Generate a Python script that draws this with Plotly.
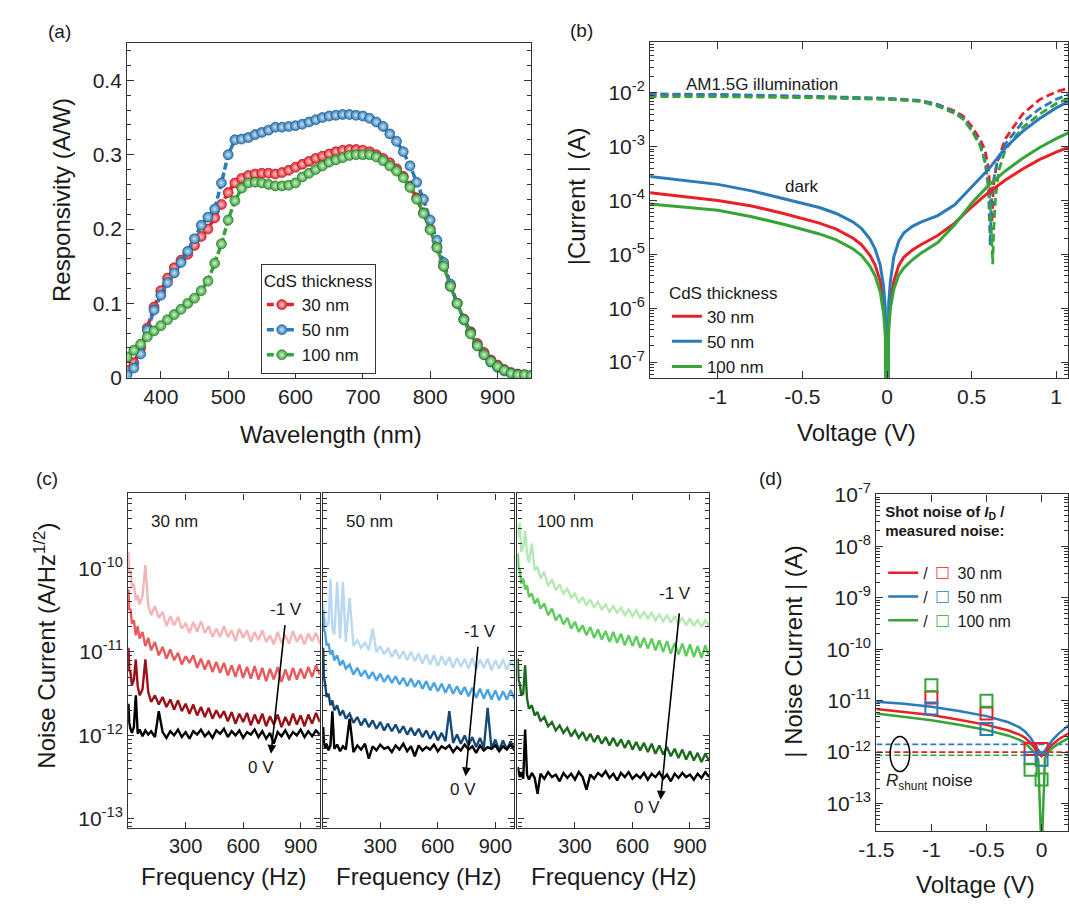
import plotly.graph_objects as go

W, H = 1069, 910
FONT = "Liberation Sans, Arial, sans-serif"
RED, BLUE, GREEN = "#e8202a", "#2b7bba", "#37a437"
thickness = ["30 nm", "50 nm", "100 nm"]

# ---------------- (a) responsivity ----------------
wavelength = [350, 360, 370, 380, 390, 400, 410, 420, 430, 440, 450, 460, 470, 480, 490,
              500, 510, 520, 530, 540, 550, 560, 570, 580, 590, 600, 610, 620, 630, 640,
              650, 660, 670, 680, 690, 700, 710, 720, 730, 740, 750, 760, 770, 780, 790,
              800, 810, 820, 830, 840, 850, 860, 870, 880, 890, 900, 910, 920, 930, 940, 950]
resp_30 = [0.010, 0.020, 0.040, 0.067, 0.095, 0.117, 0.134, 0.148, 0.158, 0.166, 0.178, 0.190,
           0.200, 0.215, 0.233, 0.249, 0.262, 0.268, 0.272, 0.274, 0.275, 0.275, 0.274, 0.276,
           0.279, 0.283, 0.287, 0.291, 0.295, 0.298, 0.301, 0.304, 0.306, 0.307, 0.307, 0.306,
           0.304, 0.300, 0.295, 0.289, 0.281, 0.271, 0.258, 0.242, 0.222, 0.200, 0.176, 0.150,
           0.123, 0.100, 0.079, 0.062, 0.046, 0.034, 0.024, 0.017, 0.011, 0.007, 0.005, 0.004, 0.003]
resp_50 = [0.004, 0.013, 0.032, 0.064, 0.091, 0.111, 0.128, 0.141, 0.155, 0.170, 0.187, 0.205,
           0.216, 0.227, 0.262, 0.300, 0.320, 0.321, 0.323, 0.327, 0.330, 0.333, 0.337, 0.337,
           0.338, 0.339, 0.341, 0.344, 0.347, 0.350, 0.352, 0.353, 0.354, 0.354, 0.353, 0.352,
           0.349, 0.344, 0.338, 0.328, 0.318, 0.304, 0.285, 0.263, 0.240, 0.212, 0.185, 0.155,
           0.126, 0.100, 0.078, 0.060, 0.043, 0.031, 0.021, 0.014, 0.009, 0.006, 0.004, 0.003, 0.003]
resp_100 = [0.028, 0.037, 0.045, 0.055, 0.063, 0.070, 0.078, 0.085, 0.092, 0.100, 0.107, 0.117,
            0.130, 0.154, 0.180, 0.212, 0.238, 0.255, 0.262, 0.263, 0.262, 0.260, 0.258, 0.258,
            0.259, 0.262, 0.270, 0.275, 0.280, 0.285, 0.290, 0.293, 0.296, 0.299, 0.300, 0.300,
            0.300, 0.297, 0.292, 0.285, 0.278, 0.269, 0.256, 0.240, 0.221, 0.199, 0.175, 0.150,
            0.123, 0.100, 0.078, 0.059, 0.043, 0.031, 0.022, 0.015, 0.010, 0.006, 0.004, 0.004, 0.003]

# ---------------- (b) I-V, log10 |I| ----------------
v_dark = [-1.41, -1.2, -1.0, -0.8, -0.6, -0.4, -0.3, -0.2, -0.15, -0.1, -0.07, -0.04, -0.02, -0.01,
          0.0, 0.01, 0.02, 0.04, 0.07, 0.1, 0.15, 0.2, 0.3, 0.4, 0.5, 0.6, 0.7, 0.8, 0.9, 1.0, 1.1]
dark_30 = [-3.85, -3.92, -4.00, -4.10, -4.25, -4.42, -4.53, -4.70, -4.82, -5.02, -5.20, -5.50, -5.90,
           -6.30, -9.0, -6.30, -5.90, -5.50, -5.20, -5.05, -4.92, -4.82, -4.65, -4.42, -4.12, -3.85,
           -3.62, -3.42, -3.24, -3.10, -2.98]
dark_50 = [-3.55, -3.62, -3.70, -3.82, -3.97, -4.13, -4.24, -4.40, -4.52, -4.72, -4.90, -5.20, -5.60,
           -6.00, -9.0, -5.90, -5.50, -5.05, -4.75, -4.60, -4.48, -4.40, -4.28, -4.08, -3.75, -3.42,
           -3.02, -2.72, -2.48, -2.28, -2.12]
dark_100 = [-4.06, -4.12, -4.18, -4.30, -4.45, -4.62, -4.73, -4.90, -5.02, -5.22, -5.40, -5.70, -6.10,
            -6.50, -9.0, -6.40, -6.00, -5.65, -5.38, -5.25, -5.10, -4.98, -4.78, -4.45, -4.05, -3.72,
            -3.45, -3.22, -3.02, -2.85, -2.70]

v_light_30 = [-1.41, -1.0, -0.5, 0.0, 0.2, 0.3, 0.4, 0.45, 0.5, 0.55, 0.58, 0.6, 0.61, 0.62, 0.63,
              0.65, 0.7, 0.8, 0.9, 1.0, 1.1]
light_30 = [-2.04, -2.04, -2.07, -2.11, -2.15, -2.22, -2.34, -2.43, -2.62, -2.86, -3.07, -3.40, -3.90,
            -4.40, -3.70, -3.30, -2.85, -2.40, -2.13, -1.98, -1.89]
v_light_50 = [-1.41, -1.0, -0.5, 0.0, 0.2, 0.3, 0.4, 0.45, 0.5, 0.55, 0.58, 0.6, 0.605, 0.61, 0.615,
              0.625, 0.65, 0.7, 0.8, 0.9, 1.0, 1.1]
light_50 = [-2.02, -2.03, -2.06, -2.10, -2.14, -2.22, -2.36, -2.47, -2.68, -2.95, -3.25, -3.80, -4.30,
            -4.84, -4.20, -3.70, -3.30, -2.95, -2.55, -2.30, -2.12, -2.00]
v_light_100 = [-1.41, -1.0, -0.5, 0.0, 0.2, 0.3, 0.4, 0.45, 0.5, 0.55, 0.58, 0.6, 0.61, 0.62, 0.625,
               0.63, 0.64, 0.66, 0.7, 0.8, 0.9, 1.0, 1.1]
light_100 = [-2.07, -2.07, -2.09, -2.12, -2.16, -2.25, -2.38, -2.49, -2.70, -2.98, -3.30, -3.70, -4.10,
             -4.70, -5.18, -4.60, -4.00, -3.45, -3.05, -2.65, -2.40, -2.20, -2.07]

# ---------------- (c) noise spectra, log10 A/Hz^1/2 ----------------
freq = [2, 6, 12, 20, 30, 40, 50, 60, 75, 90, 105, 120, 140, 160, 180, 200, 220, 240, 260, 280,
        300, 320, 340, 360, 380, 400, 420, 440, 460, 480, 500, 520, 540, 560, 580, 600, 620, 640,
        660, 680, 700, 720, 740, 760, 780, 800, 820, 840, 860, 880, 900, 920, 940, 960, 980, 1000]

n30_m1 = [-9.80, -10.06, -10.02, -10.22, -10.18, -10.38, -10.32, -10.43, -10.33, -9.96,
          -10.44, -10.56, -10.45, -10.59, -10.52, -10.69, -10.57, -10.68, -10.58, -10.72,
          -10.66, -10.77, -10.64, -10.76, -10.63, -10.77, -10.69, -10.82, -10.72, -10.82,
          -10.69, -10.82, -10.74, -10.87, -10.72, -10.83, -10.74, -10.88, -10.76, -10.86,
          -10.74, -10.88, -10.80, -10.91, -10.76, -10.89, -10.80, -10.90, -10.75, -10.88,
          -10.79, -10.91, -10.78, -10.87, -10.77, -10.90]
n30_m2 = [-10.25, -10.50, -10.48, -10.66, -10.62, -10.80, -10.69, -10.84, -10.76, -10.93,
          -10.83, -10.98, -10.88, -11.04, -10.94, -11.08, -10.97, -11.10, -11.01, -11.15,
          -11.05, -11.13, -11.04, -11.19, -11.08, -11.21, -11.10, -11.24, -11.12, -11.25,
          -11.13, -11.28, -11.16, -11.30, -11.15, -11.31, -11.18, -11.32, -11.17, -11.33,
          -11.19, -11.35, -11.20, -11.33, -11.18, -11.36, -11.21, -11.34, -11.19, -11.33,
          -11.20, -11.32, -11.18, -11.30, -11.16, -11.27]
n30_m3 = [-10.95, -11.22, -11.24, -11.40, -11.33, -11.09, -11.41, -11.52, -11.45, -11.09,
          -11.48, -11.60, -11.52, -11.63, -11.54, -11.66, -11.57, -11.69, -11.58, -11.71,
          -11.62, -11.74, -11.63, -11.76, -11.66, -11.78, -11.67, -11.80, -11.70, -11.79,
          -11.71, -11.83, -11.72, -11.86, -11.74, -11.84, -11.73, -11.88, -11.75, -11.86,
          -11.74, -11.89, -11.77, -11.87, -11.75, -11.90, -11.78, -11.88, -11.74, -11.87,
          -11.76, -11.89, -11.75, -11.86, -11.73, -11.84]
n30_0v = [-11.62, -11.85, -11.92, -11.97, -11.90, -11.52, -11.98, -11.93, -12.01, -11.94,
          -11.99, -11.95, -12.02, -11.71, -11.96, -12.03, -11.95, -12.00, -11.93, -12.02,
          -11.96, -12.04, -11.95, -11.99, -11.93, -12.01, -11.96, -12.03, -11.94, -11.98,
          -11.92, -12.02, -11.95, -12.00, -11.94, -12.03, -11.96, -11.99, -11.93, -12.02,
          -11.95, -12.04, -11.97, -12.10, -11.96, -12.01, -11.94, -12.03, -11.96, -12.00,
          -11.93, -12.02, -11.95, -12.01, -11.94, -11.99]

n50_m1 = [-10.42, -10.58, -10.60, -10.70, -10.66, -10.12, -10.72, -10.79, -10.16, -10.84,
          -10.16, -10.88, -10.35, -10.93, -10.86, -10.95, -10.89, -10.98, -10.72, -11.00,
          -10.93, -11.03, -10.95, -11.06, -10.97, -11.08, -10.99, -11.10, -11.00, -11.11,
          -11.02, -11.14, -11.03, -11.15, -11.04, -11.17, -11.05, -11.16, -11.06, -11.19,
          -11.07, -11.18, -11.08, -11.20, -11.07, -11.21, -11.09, -11.19, -11.08, -11.22,
          -11.10, -11.20, -11.09, -11.21, -11.10, -11.19]
n50_m2 = [-10.50, -10.74, -10.76, -10.92, -10.90, -11.03, -10.98, -11.10, -11.04, -11.16,
          -11.10, -11.20, -11.15, -11.27, -11.19, -11.29, -11.22, -11.32, -11.24, -11.34,
          -11.26, -11.36, -11.28, -11.37, -11.29, -11.39, -11.31, -11.41, -11.32, -11.42,
          -11.34, -11.44, -11.35, -11.46, -11.37, -11.47, -11.38, -11.49, -11.39, -11.50,
          -11.41, -11.51, -11.42, -11.53, -11.43, -11.55, -11.44, -11.56, -11.45, -11.57,
          -11.46, -11.58, -11.47, -11.57, -11.46, -11.56]
n50_m3 = [-10.95, -11.30, -11.38, -11.54, -11.50, -11.64, -11.58, -11.70, -11.64, -11.76,
          -11.70, -11.80, -11.74, -11.85, -11.78, -11.88, -11.80, -11.90, -11.82, -11.92,
          -11.84, -11.94, -11.86, -11.95, -11.87, -11.97, -11.89, -11.99, -11.91, -12.00,
          -11.92, -12.02, -11.94, -12.04, -11.95, -12.06, -11.97, -12.07, -11.71, -12.09,
          -11.99, -12.10, -12.00, -12.12, -12.02, -12.14, -12.03, -12.15, -11.67, -12.16,
          -12.05, -12.18, -12.06, -12.17, -12.07, -12.16]
n50_0v = [-11.90, -12.08, -12.15, -12.10, -12.18, -12.12, -11.71, -12.16, -12.11, -12.19,
          -12.13, -12.17, -11.80, -12.20, -12.12, -12.17, -12.10, -12.28, -12.13, -12.18,
          -12.11, -12.16, -12.14, -12.20, -12.12, -12.17, -12.10, -12.19, -12.13, -12.25,
          -12.12, -12.18, -12.14, -12.17, -12.11, -12.19, -12.13, -12.16, -12.12, -12.20,
          -12.14, -12.18, -12.11, -12.17, -12.13, -12.21, -12.12, -12.18, -12.14, -12.16,
          -12.12, -12.19, -12.13, -12.17, -12.11, -12.18]

n100_m1 = [-9.48, -9.62, -9.45, -9.80, -9.74, -9.55, -9.82, -9.93, -9.70, -10.02,
           -9.98, -10.12, -10.04, -10.21, -10.13, -10.26, -10.19, -10.30, -10.24, -10.35,
           -10.30, -10.41, -10.34, -10.44, -10.37, -10.47, -10.40, -10.49, -10.43, -10.52,
           -10.45, -10.53, -10.47, -10.56, -10.49, -10.57, -10.50, -10.59, -10.52, -10.60,
           -10.53, -10.62, -10.55, -10.63, -10.56, -10.65, -10.57, -10.66, -10.59, -10.68,
           -10.60, -10.69, -10.61, -10.70, -10.62, -10.69]
n100_m2 = [-9.82, -10.02, -10.00, -10.18, -10.12, -10.25, -10.20, -10.34, -10.30, -10.42,
           -10.36, -10.48, -10.42, -10.56, -10.48, -10.62, -10.55, -10.67, -10.59, -10.72,
           -10.64, -10.76, -10.68, -10.80, -10.70, -10.83, -10.73, -10.85, -10.75, -10.88,
           -10.76, -10.89, -10.78, -10.92, -10.80, -10.93, -10.81, -10.95, -10.83, -10.96,
           -10.84, -10.98, -10.86, -11.00, -10.87, -11.02, -10.89, -11.03, -10.90, -11.05,
           -10.91, -11.06, -10.93, -11.07, -10.92, -11.05]
n100_m3 = [-11.08, -11.34, -11.38, -11.52, -11.50, -11.16, -11.56, -11.68, -11.64, -11.76,
           -11.72, -11.83, -11.78, -11.89, -11.84, -11.94, -11.88, -11.97, -11.91, -12.01,
           -11.94, -12.03, -11.96, -12.06, -11.98, -12.08, -12.00, -12.10, -12.02, -12.12,
           -12.03, -12.13, -12.05, -12.15, -12.06, -12.17, -12.08, -12.18, -12.09, -12.20,
           -12.10, -12.22, -12.12, -12.23, -12.14, -12.25, -12.16, -12.27, -12.17, -12.29,
           -12.19, -12.30, -12.21, -12.32, -12.22, -12.31]
n100_0v = [-12.38, -12.45, -12.50, -12.44, -12.52, -11.93, -12.47, -12.53, -12.45, -12.51,
           -12.70, -12.46, -12.52, -12.44, -12.50, -12.47, -12.55, -12.45, -12.51, -12.46,
           -12.53, -12.44, -12.50, -12.65, -12.47, -12.52, -12.45, -12.49, -12.43, -12.51,
           -12.46, -12.54, -12.45, -12.50, -12.44, -12.52, -12.47, -12.51, -12.45, -12.53,
           -12.46, -12.50, -12.44, -12.52, -12.47, -12.55, -12.46, -12.51, -12.45, -12.50,
           -12.47, -12.53, -12.46, -12.51, -12.44, -12.50]

# ---------------- (d) shot noise vs measured, log10 A ----------------
v_shot = [-1.5, -1.25, -1.0, -0.75, -0.5, -0.3, -0.2, -0.15, -0.1, -0.06, -0.03, 0.0, 0.03, 0.06,
          0.1, 0.15, 0.2, 0.25]
shot_30 = [-11.16, -11.22, -11.28, -11.37, -11.47, -11.58, -11.66, -11.72, -11.82, -11.93, -12.02,
           -12.08, -12.02, -11.94, -11.85, -11.76, -11.69, -11.63]
shot_50 = [-11.02, -11.06, -11.12, -11.20, -11.30, -11.42, -11.52, -11.60, -11.72, -11.85, -11.96,
           -12.03, -11.97, -11.88, -11.76, -11.65, -11.55, -11.47]
shot_100 = [-11.25, -11.31, -11.38, -11.47, -11.57, -11.68, -11.76, -11.82, -11.92, -12.02, -12.15,
            -14.0, -12.12, -12.00, -11.92, -11.84, -11.78, -11.72]
v_meas = [-1.0, -0.5, -0.1, 0.0]
meas_30 = [-10.94, -11.25, -11.94, -11.94]
meas_50 = [-11.15, -11.55, -12.12, -12.15]
meas_100 = [-10.70, -11.00, -12.34, -12.53]
rshunt = [-12.00, -11.85, -12.06]   # 30, 50, 100 nm
v_span = [-1.5, 0.3]


def e10(vals):
    return [10.0 ** v for v in vals]


def px(x):
    return x / W


def py(y):
    return 1 - y / H


def frame(**kw):
    base = dict(showline=True, linecolor="#333", linewidth=1.2, mirror="ticks",
                ticks="inside", tickcolor="#333", ticklen=7, tickwidth=1.2,
                showgrid=False, zeroline=False,
                tickfont=dict(size=21, color="#222", family=FONT))
    base.update(kw)
    return base


def sup(e):
    return "10<sup>%d</sup>" % e


minor_log = dict(ticks="inside", ticklen=4, tickcolor="#333",
                 tickvals=[k * 10.0 ** e for e in range(-15, 0) for k in range(2, 10)])

fig = go.Figure()

# (a)
for y, c, tint, edge, nm in [(resp_30, RED, "#fbd0d0", "#9a1515", thickness[0]),
                             (resp_50, BLUE, "#cfe3f3", "#1b4f7a", thickness[1]),
                             (resp_100, GREEN, "#d2efd0", "#1f6b1f", thickness[2])]:
    fig.add_trace(go.Scatter(
        x=wavelength, y=y, mode="lines+markers", name=nm, legend="legend",
        line=dict(color=c, width=3.5, dash="7px,3px"),
        marker=dict(size=10, color=c, gradient=dict(type="radial", color=tint),
                    line=dict(width=0.6, color=edge)),
        xaxis="x", yaxis="y"))

# (b)
for v, y, c in [(v_light_30, light_30, RED), (v_light_50, light_50, BLUE),
                (v_light_100, light_100, GREEN)]:
    fig.add_trace(go.Scatter(x=v, y=e10(y), mode="lines", showlegend=False,
                             line=dict(color=c, width=2.8, dash="8px,4px"),
                             xaxis="x2", yaxis="y2"))
for y, c, nm in [(dark_30, RED, thickness[0]), (dark_50, BLUE, thickness[1]),
                 (dark_100, GREEN, thickness[2])]:
    fig.add_trace(go.Scatter(x=v_dark, y=e10(y), mode="lines", name=nm, legend="legend2",
                             line=dict(color=c, width=3), xaxis="x2", yaxis="y2"))

# (c)
noise_sets = [
    ("3", [(n30_m1, "#f5b5b6"), (n30_m2, "#e85a5e"), (n30_m3, "#9c1118"), (n30_0v, "#000000")]),
    ("4", [(n50_m1, "#b9d9f2"), (n50_m2, "#4aa3e3"), (n50_m3, "#154a78"), (n50_0v, "#000000")]),
    ("5", [(n100_m1, "#b8e8b4"), (n100_m2, "#5fcc5f"), (n100_m3, "#1e6b20"), (n100_0v, "#000000")]),
]
for k, curves in noise_sets:
    for y, c in curves:
        fig.add_trace(go.Scatter(x=freq, y=e10(y), mode="lines", showlegend=False,
                                 line=dict(color=c, width=2.4),
                                 xaxis="x" + k, yaxis="y" + k))

# (d)
for y, c in [(rshunt[0], RED), (rshunt[1], BLUE), (rshunt[2], GREEN)]:
    fig.add_trace(go.Scatter(x=v_span, y=e10([y, y]), mode="lines", showlegend=False,
                             line=dict(color=c, width=1.6, dash="6px,3px"),
                             xaxis="x6", yaxis="y6"))
for y, c, nm in [(shot_30, RED, thickness[0]), (shot_50, BLUE, thickness[1]),
                 (shot_100, GREEN, thickness[2])]:
    label = ("/&nbsp;&nbsp;<span style='color:%s;font-size:20px'>□</span>&nbsp;&nbsp;%s"
             % (c, nm))
    fig.add_trace(go.Scatter(x=v_shot, y=e10(y), mode="lines", name=label, legend="legend3",
                             line=dict(color=c, width=2.5), xaxis="x6", yaxis="y6"))
for y, c in [(meas_30, RED), (meas_50, BLUE), (meas_100, GREEN)]:
    fig.add_trace(go.Scatter(x=v_meas, y=e10(y), mode="markers", showlegend=False,
                             marker=dict(symbol="square-open", size=12, color=c,
                                         line=dict(width=2, color=c)),
                             xaxis="x6", yaxis="y6"))

# axes
logs_b = list(range(-7, -1))
logs_c = list(range(-13, -9))
logs_d = list(range(-13, -6))
c_dom = [(112, 307), (310, 505), (508, 703)]

layout_axes = dict(
    xaxis=frame(domain=[px(111), px(522)], range=[350, 950], anchor="y",
                tickvals=[400, 500, 600, 700, 800, 900], mirror=True),
    yaxis=frame(domain=[py(374), py(30)], range=[0, 0.45], anchor="x",
                tickvals=[0, 0.1, 0.2, 0.3, 0.4], ticktext=["0", "0.1", "0.2", "0.3", "0.4"],
                minor=dict(ticks="inside", ticklen=4, tickcolor="#333", dtick=0.02)),
    xaxis2=frame(domain=[px(643), px(1068)], range=[-1.40, 1.07], anchor="y2",
                 tickvals=[-1, -0.5, 0, 0.5, 1], ticktext=["-1", "-0.5", "0", "0.5", "1"]),
    yaxis2=frame(domain=[py(374), py(29)], type="log", range=[-7.29, -1.06], anchor="x2",
                 tickvals=e10(logs_b), ticktext=[sup(e) for e in logs_b], minor=minor_log),
    xaxis6=frame(domain=[px(873), px(1068)], range=[-1.5, 0.24], anchor="y6",
                 tickvals=[-1.5, -1, -0.5, 0], ticktext=["-1.5", "-1", "-0.5", "0"]),
    yaxis6=frame(domain=[py(840), py(494)], type="log", range=[-13.53, -6.995], anchor="x6",
                 tickvals=e10(logs_d), ticktext=[sup(e) for e in logs_d], minor=minor_log),
)
for i, (a, b) in enumerate(c_dom):
    k = str(i + 3)
    layout_axes["xaxis" + k] = frame(domain=[px(a), px(b)], range=[0, 1000], anchor="y" + k,
                                     tickvals=[300, 600, 900], ticklen=6,
                                     tickfont=dict(size=20, color="#222", family=FONT))
    layout_axes["yaxis" + k] = frame(domain=[py(837), py(493)], type="log", range=[-13.11, -9.10],
                                     anchor="x" + k, tickvals=e10(logs_c),
                                     ticktext=[sup(e) for e in logs_c], showticklabels=(i == 0),
                                     ticklen=6, minor=minor_log,
                                     tickfont=dict(size=21, color="#222", family=FONT))


def ann(text, x, y, size=24, angle=0, xanchor="center", **kw):
    d = dict(text=text, x=px(x), y=py(y), xref="paper", yref="paper", showarrow=False,
             textangle=angle, xanchor=xanchor, yanchor="middle",
             font=dict(size=size, color="#1a1a1a", family=FONT))
    d.update(kw)
    return d


annotations = [
    ann("(a)", 42, 18, 19), ann("(b)", 573, 17, 19), ann("(c)", 30, 478, 19), ann("(d)", 765, 478, 19),
    ann("Wavelength (nm)", 318, 432), ann("Responsivity (A/W)", 45, 191, angle=-90),
    ann("Voltage (V)", 853, 430), ann("|Current | (A)", 568, 187, angle=-90),
    ann("AM1.5G illumination", 757, 72, 17), ann("dark", 797, 177, 17),
    ann("Noise Current (A/Hz<sup>1/2</sup>)", 28, 650, angle=-90),
    ann("Voltage (V)", 974, 895), ann("| Noise Current | (A)", 788, 655, angle=-90),
    ann("<i>R</i><sub>shunt</sub> noise", 881, 790, 17, xanchor="left"),
]
for a, b in c_dom:
    annotations.append(ann("Frequency (Hz)", (a + b) / 2, 887))

# (c) in-panel labels and arrows (data coordinates, log10 on y)
c_text = [("30 nm", 108, (819, -10.66), (745, -12.22), (821, -10.49), (692, -12.39)),
          ("50 nm", 113, (810, -10.92), (745, -12.49), (820, -10.76), (733, -12.65)),
          ("100 nm", 92, (845, -10.52), (746, -12.77), (820, -10.30), (677, -12.87))]
for i, (lab, lx, start, head, t1, t0) in enumerate(c_text):
    k = str(i + 3)
    f17 = dict(size=17, color="#1a1a1a", family=FONT)
    annotations.append(dict(text=lab, x=lx, y=-9.44, xref="x" + k, yref="y" + k,
                            showarrow=False, xanchor="left", font=f17))
    annotations.append(dict(text="-1 V", x=t1[0], y=t1[1], xref="x" + k, yref="y" + k,
                            showarrow=False, font=f17))
    annotations.append(dict(text="0 V", x=t0[0], y=t0[1], xref="x" + k, yref="y" + k,
                            showarrow=False, font=f17))
    annotations.append(dict(text="", x=head[0], y=head[1], ax=start[0], ay=start[1],
                            xref="x" + k, yref="y" + k, axref="x" + k, ayref="y" + k,
                            showarrow=True, arrowhead=2, arrowsize=1.1, arrowwidth=1.6,
                            arrowcolor="#000", standoff=0))

fig.update_layout(
    width=W, height=H, margin=dict(l=0, r=0, t=0, b=0),
    paper_bgcolor="white", plot_bgcolor="white",
    font=dict(family=FONT, color="#1a1a1a"),
    annotations=annotations,
    shapes=[dict(type="circle", xref="paper", yref="paper", x0=px(887), x1=px(907),
                 y0=py(779), y1=py(743), line=dict(color="#000", width=1.5))],
    legend=dict(x=px(247), y=py(257), xanchor="left", yanchor="top", bgcolor="white",
                bordercolor="#333", borderwidth=1, font=dict(size=17), tracegroupgap=0,
                title=dict(text="CdS thickness", font=dict(size=17))),
    legend2=dict(x=px(660), y=py(270), xanchor="left", yanchor="top",
                 bgcolor="rgba(0,0,0,0)", font=dict(size=17), tracegroupgap=0,
                 title=dict(text="CdS thickness", font=dict(size=17))),
    legend3=dict(x=px(880), y=py(497), xanchor="left", yanchor="top",
                 bgcolor="rgba(0,0,0,0)", font=dict(size=16), tracegroupgap=0,
                 title=dict(text="<b>Shot noise of <i>I</i><sub>D</sub> /<br>measured noise:</b><br> ",
                            font=dict(size=15))),
    **layout_axes,
)

# the page body has a default 8px margin; drop it so the figure sits at the window origin
fig.write_html("out.html", config={"displayModeBar": False},
               post_script="document.body.style.margin='0';")
